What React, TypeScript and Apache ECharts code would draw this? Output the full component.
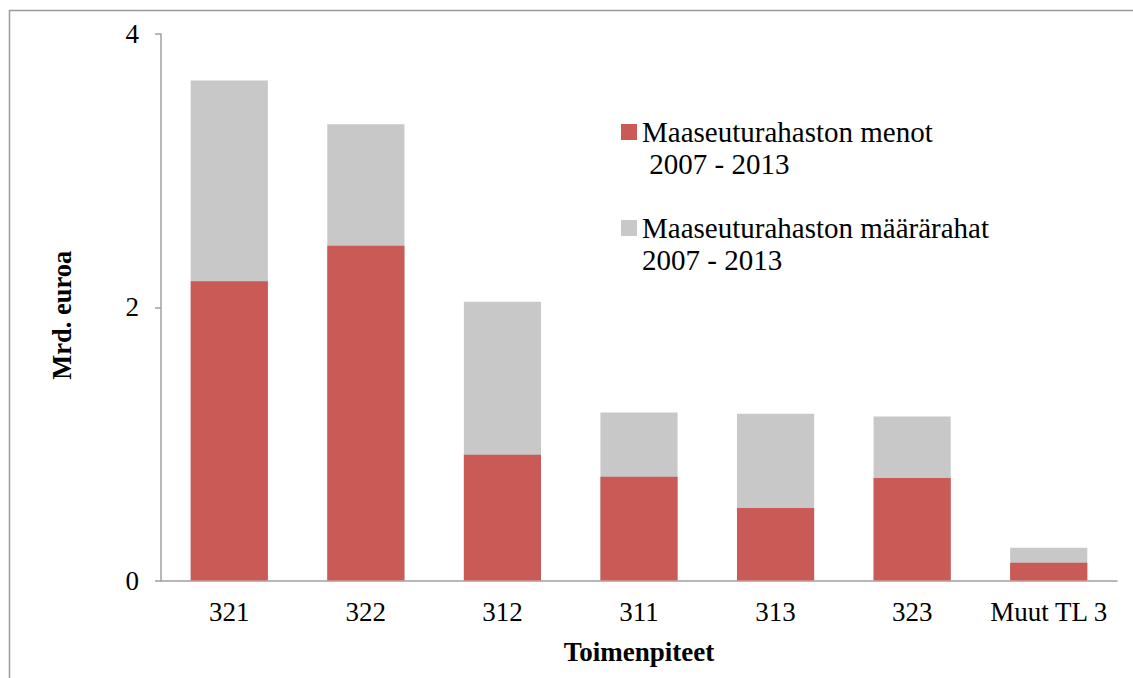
import React, { useEffect, useRef } from "react";
import * as echarts from "echarts";

const categories = ["321", "322", "312", "311", "313", "323", "Muut TL 3"];
const menot = [2.19, 2.45, 0.92, 0.76, 0.53, 0.75, 0.13];
const maararahat = [3.66, 3.34, 2.04, 1.23, 1.22, 1.2, 0.24];
const yTicks = { min: 0, max: 4, interval: 2 };

const nameMenot = "Maaseuturahaston menot";
const nameMaara = "Maaseuturahaston määrärahat";
const legendText: Record<string, string> = {
  [nameMenot]: "{t| }\n{t|Maaseuturahaston menot}\n{t| 2007 - 2013}",
  [nameMaara]: "{t| }\n{t|Maaseuturahaston määrärahat}\n{t|2007 - 2013}",
};

const FONT = "Liberation Serif, serif";
const RED = "#c95a56";
const GRAY = "#c8c8c8";
const AXIS = "#a0a0a0";

export default function App() {
  const ref = useRef<HTMLDivElement>(null);
  useEffect(() => {
    if (!ref.current) return;
    const chart = echarts.init(ref.current, null, { renderer: "svg" });
    chart.setOption({
      animation: false,
      backgroundColor: "#ffffff",
      graphic: [
        {
          type: "rect",
          shape: { x: 9.5, y: 10.5, width: 1300, height: 900 },
          style: { fill: "none", stroke: "#9a9a9a", lineWidth: 1.5 },
          silent: true,
        },
      ],
      grid: { left: 161, right: 16, top: 34, bottom: 97.5, outerBoundsMode: "none", containLabel: false },
      legend: {
        orient: "vertical",
        left: 621,
        top: 84,
        padding: 0,
        itemWidth: 16,
        itemHeight: 16,
        itemGap: 0,
        icon: "rect",
        data: [nameMenot, nameMaara],
        formatter: (n: string) => legendText[n] ?? n,
        textStyle: {
          fontFamily: FONT,
          fontSize: 29,
          color: "#000",
          lineHeight: 32,
          rich: {
            t: { fontFamily: FONT, fontSize: 29, color: "#000", lineHeight: 32 },
          },
        },
      },
      xAxis: {
        type: "category",
        data: categories,
        name: "Toimenpiteet",
        nameLocation: "middle",
        nameGap: 58,
        nameTextStyle: { fontFamily: FONT, fontSize: 27, fontWeight: "bold", color: "#000" },
        axisLine: { lineStyle: { color: AXIS, width: 1.5 } },
        axisTick: { show: false },
        axisLabel: { fontFamily: FONT, fontSize: 27, color: "#000", margin: 18, interval: 0 },
      },
      yAxis: {
        type: "value",
        min: yTicks.min,
        max: yTicks.max,
        interval: yTicks.interval,
        name: "Mrd. euroa",
        nameLocation: "middle",
        nameRotate: 90,
        nameGap: 86,
        nameTextStyle: {
          fontFamily: FONT,
          fontSize: 26.5,
          fontWeight: "bold",
          color: "#000",
          padding: [0, 16, 0, 0],
        },
        axisLine: { show: true, lineStyle: { color: AXIS, width: 1.5 } },
        axisTick: { show: true, length: 6, lineStyle: { color: AXIS, width: 1.5 } },
        splitLine: { show: false },
        axisLabel: { fontFamily: FONT, fontSize: 27, color: "#000", margin: 22 },
      },
      series: [
        {
          name: nameMaara,
          type: "bar",
          data: maararahat,
          barWidth: "56.5%",
          barGap: "-100%",
          itemStyle: { color: GRAY },
        },
        {
          name: nameMenot,
          type: "bar",
          data: menot,
          barWidth: "56.5%",
          barGap: "-100%",
          itemStyle: { color: RED },
        },
      ],
    });
    return () => chart.dispose();
  }, []);
  return (
    <div
      ref={ref}
      style={{ position: "absolute", left: 0, top: 0, width: 1133, height: 678 }}
    />
  );
}
